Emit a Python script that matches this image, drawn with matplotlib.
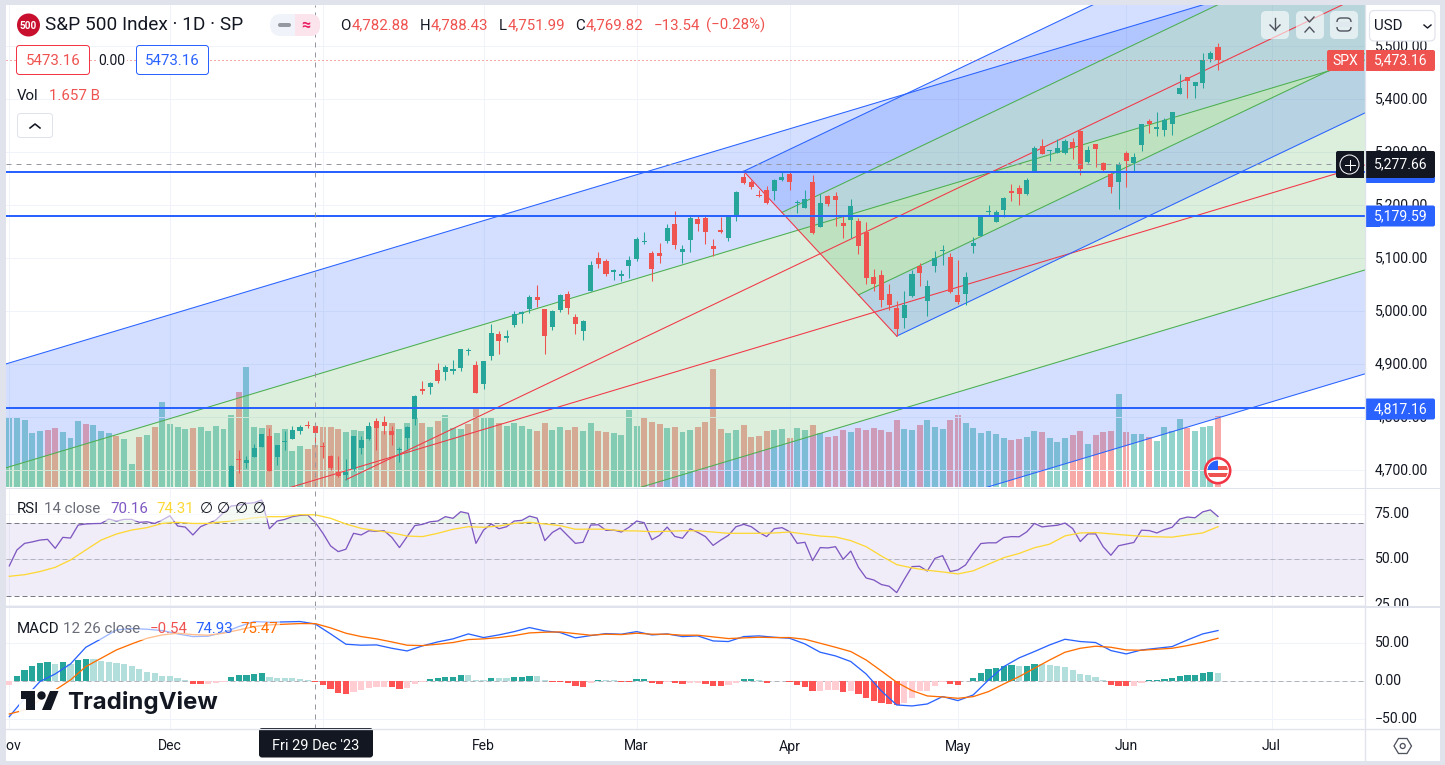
import numpy as np
import matplotlib
matplotlib.use('Agg')
import matplotlib.pyplot as plt
from matplotlib.patches import Rectangle, FancyBboxPatch, Circle, Polygon

plt.rcParams['font.family'] = ['Roboto', 'DejaVu Sans']

W, H = 1445, 765

# first candle on screen is bar 29, everything before sits below the price pane
candle_start = 29
opens = [4646, 4721, 4714, 4725, 4743, 4764, 4724, 4753, 4758, 4773, 4786, 4782.88,
         4745, 4726, 4697, 4690, 4703, 4742, 4759, 4792, 4791, 4773, 4739, 4760, 4797, 4853, 4856, 4889, 4886, 4888, 4893, 4925, 4899,
         4862, 4916, 4957, 4950, 4973, 4995, 5005, 5026, 5004, 4970, 5003, 5032, 4989, 4963, 5039, 5100, 5094, 5074, 5067, 5085,
         5098, 5131, 5110, 5109, 5132, 5164, 5112, 5134, 5174, 5176, 5123, 5154, 5139, 5181, 5254, 5243, 5220, 5228, 5227, 5248,
         5258, 5205, 5195, 5244, 5159, 5218, 5217, 5167, 5172, 5171, 5150, 5065, 5068, 5032, 5006, 4988, 5029, 5085, 5019, 5085, 5114, 5103,
         5030, 5033, 5123, 5142, 5187, 5169, 5190, 5226, 5233, 5221, 5264, 5311, 5303, 5299, 5298, 5320, 5340, 5281, 5316, 5279, 5259, 5244,
         5298, 5279, 5314, 5358, 5344, 5342, 5354, 5409, 5441, 5424, 5431, 5476, 5499]
highs = [4709, 4738, 4726, 4749, 4769, 4779, 4748, 4773, 4784, 4785, 4793, 4788.43,
         4754, 4729, 4726, 4722, 4764, 4765, 4791, 4799, 4802, 4784, 4744, 4783, 4842, 4868, 4866, 4903, 4898, 4907, 4929, 4931, 4906,
         4906, 4975, 4963, 4965, 5000, 5001, 5031, 5049, 5005, 5002, 5032, 5039, 4994, 4984, 5094, 5111, 5098, 5080, 5078, 5105,
         5140, 5149, 5114, 5128, 5165, 5189, 5125, 5180, 5180, 5180, 5136, 5177, 5180, 5226, 5261, 5247, 5229, 5236, 5249, 5265,
         5264, 5209, 5229, 5256, 5222, 5220, 5225, 5179, 5211, 5175, 5168, 5079, 5077, 5052, 5019, 5038, 5077, 5090, 5058, 5114, 5124, 5110,
         5096, 5073, 5140, 5181, 5200, 5191, 5215, 5240, 5238, 5251, 5311, 5325, 5305, 5325, 5324, 5327, 5341, 5311, 5316, 5282, 5264, 5281,
         5303, 5299, 5354, 5362, 5376, 5365, 5376, 5448, 5441, 5432, 5488, 5490, 5506]
lows = [4643, 4694, 4705, 4725, 4743, 4698, 4709, 4739, 4758, 4768, 4780, 4751.99,
        4723, 4700, 4687, 4682, 4699, 4730, 4757, 4739, 4769, 4747, 4715, 4740, 4785, 4844, 4844, 4865, 4870, 4881, 4888, 4917, 4845,
        4853, 4907, 4919, 4942, 4970, 4978, 4996, 5008, 4920, 4964, 4999, 4994, 4956, 4946, 5039, 5081, 5067, 5058, 5057, 5062,
        5094, 5127, 5056, 5091, 5128, 5117, 5091, 5111, 5152, 5127, 5104, 5148, 5132, 5171, 5240, 5230, 5216, 5203, 5210, 5246,
        5229, 5185, 5195, 5146, 5158, 5198, 5161, 5139, 5138, 5108, 5052, 5039, 5008, 5002, 4954, 4969, 5027, 5047, 4990, 5073, 5088, 5035,
        5013, 5012, 5110, 5142, 5180, 5168, 5178, 5207, 5201, 5220, 5264, 5296, 5283, 5299, 5297, 5287, 5257, 5279, 5272, 5263, 5223, 5192,
        5234, 5265, 5303, 5336, 5331, 5331, 5333, 5409, 5402, 5403, 5421, 5471, 5455]
closes = [4707, 4720, 4719, 4741, 4768, 4698, 4747, 4755, 4775, 4782, 4783, 4769.82,
          4743, 4705, 4689, 4697, 4764, 4757, 4783, 4780, 4784, 4766, 4739, 4781, 4840, 4850, 4865, 4869, 4894, 4891, 4928, 4925, 4846,
          4906, 4959, 4943, 4954, 4995, 4998, 5027, 5022, 4953, 5001, 5030, 5006, 4976, 4982, 5087, 5089, 5070, 5078, 5070, 5096,
          5137, 5131, 5079, 5105, 5157, 5124, 5118, 5175, 5165, 5150, 5117, 5149, 5179, 5225, 5242, 5234, 5218, 5204, 5248, 5254,
          5244, 5206, 5211, 5147, 5204, 5202, 5210, 5161, 5199, 5123, 5062, 5051, 5022, 5011, 4967, 5011, 5071, 5072, 5048, 5100, 5116, 5036,
          5018, 5064, 5128, 5181, 5188, 5188, 5214, 5223, 5221, 5247, 5308, 5297, 5303, 5308, 5321, 5307, 5268, 5305, 5306, 5267, 5235, 5278,
          5283, 5291, 5354, 5353, 5347, 5361, 5375, 5421, 5434, 5432, 5473, 5487, 5473.16]

# volume in billions, bar 0 to 158
volume = [2.73, 2.69, 2.61, 2.10, 2.18, 2.22, 2.30, 2.14, 1.91, 2.58,
          2.46, 2.42, 2.18, 2.10, 1.99, 1.87, 0.89, 1.95, 2.03, 2.34,
          3.32, 2.46, 2.34, 2.26, 2.30, 2.34, 2.18, 2.38, 2.26, 2.81,
          3.71, 4.71, 2.34, 2.30, 2.42, 2.10, 2.26, 1.40, 1.59, 1.48,
          1.657, 2.34, 2.34, 2.26, 2.14, 2.22, 2.18, 2.34, 2.54, 2.18,
          2.50, 2.26, 2.50, 2.69, 2.50, 2.34, 2.58, 2.81, 2.30, 2.26,
          2.46, 3.12, 2.69, 2.73, 2.50, 2.38, 2.50, 2.38, 2.26, 2.18,
          2.50, 2.22, 2.34, 2.22, 2.34, 2.18, 2.50, 2.18, 2.14, 2.10,
          2.03, 3.01, 2.38, 2.69, 2.54, 2.46, 2.30, 2.34, 2.14, 2.22,
          2.34, 2.54, 4.61, 2.26, 2.10, 2.22, 2.42, 1.95, 1.99, 2.18,
          2.22, 2.26, 1.91, 2.30, 2.22, 2.42, 2.10, 1.95, 1.99, 2.22,
          2.14, 2.30, 2.22, 2.30, 2.22, 2.14, 2.61, 2.26, 2.22, 2.42,
          2.61, 2.34, 2.26, 2.61, 2.81, 2.51, 2.31, 2.12, 2.20, 2.08,
          1.92, 1.84, 1.88, 1.96, 2.20, 2.16, 1.92, 1.76, 1.92, 2.04,
          2.20, 1.69, 2.04, 2.16, 2.20, 3.65, 2.16, 2.08, 2.08, 1.96,
          1.80, 2.35, 2.20, 2.67, 2.31, 2.20, 2.35, 2.39, 2.78]
volume_side = ("GGGGGRRGGG" "RGGGRGGRGR" "GGGGRGGGGG" "RGGGRGGGGR" "RRRRGGGGRR"
               "RGGGRGRGGG" "RRGGRGGGGR" "RGGRRGGRRG" "GGGRRRGRGG" "RRRRGGRRRR"
               "GGRGGRGRRR" "GRRRRRRGGR" "GGGRRGGGGG" "GRRGGRGGGR" "RGRRRGRGGR"
               "GGGGRGGGR")

rsi = [46.4, 55.1, 58.7, 59.5, 60.5, 60.9, 56.0, 62.0, 61.6, 68.7,
       69.3, 69.5, 69.6, 72.0, 70.9, 71.8, 71.8, 70.2, 70.5, 69.6,
       71.5, 73.8, 68.2, 67.6, 63.3, 67.8, 69.6, 71.5, 75.5, 79.1,
       79.6, 80.5, 80.9, 82.4, 66.7, 70.9, 71.8, 73.3, 74.0, 74.2,
       70.16, 64.2, 57.3, 54.2, 55.5, 64.2, 63.3, 65.6, 65.3, 65.6,
       62.0, 56.4, 62.4, 68.4, 69.1, 70.5, 70.9, 73.3, 72.4, 76.0,
       75.1, 58.7, 66.0, 69.3, 66.7, 67.8, 70.9, 71.3, 73.6, 72.5,
       60.2, 64.7, 67.1, 62.9, 58.7, 59.3, 68.7, 68.9, 65.8, 66.0,
       64.9, 67.5, 70.9, 70.0, 60.7, 63.1, 67.6, 62.5, 61.5, 66.7,
       64.7, 62.4, 57.6, 60.5, 63.1, 67.8, 69.1, 67.8, 64.7, 62.4,
       66.7, 67.3, 65.1, 58.7, 59.3, 49.3, 56.4, 56.2, 56.9, 50.0,
       54.5, 45.6, 39.8, 38.7, 36.2, 35.3, 31.8, 39.1, 46.0, 46.2,
       43.6, 50.5, 52.0, 43.3, 44.2, 46.9, 53.2, 58.6, 59.0, 59.0,
       61.9, 62.4, 62.3, 65.0, 69.6, 67.7, 68.2, 68.6, 69.8, 66.8,
       59.7, 63.9, 63.9, 56.8, 52.2, 57.4, 58.3, 59.2, 65.9, 65.7,
       64.4, 66.2, 67.5, 72.0, 73.1, 72.7, 75.9, 77.0, 73.4]

# the slow lines are read every second bar
rsi_ma = [40.7, 41.6, 43.3, 45.6, 49.6, 55.1, 60.5, 63.8, 66.0, 67.3,
          69.6, 70.2, 69.6, 69.6, 70.5, 71.5, 72.7, 73.3, 73.3, 74.4,
          74.31, 72.4, 69.3, 66.9, 65.6, 64.5, 62.7, 62.4, 64.2, 66.4,
          67.8, 67.5, 68.2, 69.6, 70.2, 69.3, 68.4, 66.4, 66.5, 66.4,
          65.6, 65.5, 65.1, 65.3, 65.6, 65.6, 64.9, 64.2, 64.2, 64.2,
          64.4, 64.9, 63.8, 62.7, 62.2, 60.2, 56.9, 51.8, 47.1, 45.3,
          44.0, 43.1, 42.0, 43.7, 47.3, 50.9, 53.2, 56.3, 58.3, 62.8,
          64.4, 64.6, 63.9, 63.2, 62.6, 62.3, 62.1, 63.3, 64.4, 67.8]
macd_line = [-46.3, -22.3, -0.4, 9.6, 22.7, 44.5, 55.5, 67.2, 69.0, 68.1,
             66.4, 62.0, 58.5, 59.0, 63.8, 71.6, 78.2, 77.3, 77.7, 78.2,
             74.93, 62.0, 48.5, 47.2, 47.6, 43.2, 39.7, 46.3, 51.5, 55.5,
             62.0, 57.2, 60.7, 65.0, 70.3, 65.9, 63.8, 56.8, 59.8, 62.4,
             61.6, 65.0, 60.7, 62.0, 58.5, 59.4, 52.8, 52.0, 58.5, 59.4,
             57.6, 56.3, 48.9, 38.0, 33.2, 25.8, 9.6, -12.7, -31.0, -32.3,
             -29.7, -20.0, -25.3, -17.9, 1.7, 19.2, 30.6, 38.9, 47.6, 55.0,
             52.0, 50.7, 40.2, 35.8, 41.0, 43.2, 45.4, 54.1, 62.0, 66.4]
macd_signal = [-42.8, -37.6, -24.5, -11.4, 1.7, 19.2, 30.1, 41.0, 48.9, 56.3,
               60.7, 62.9, 61.1, 60.3, 62.9, 67.2, 71.6, 73.8, 74.7, 75.5,
               75.47, 69.9, 62.9, 58.5, 55.5, 51.5, 47.2, 46.7, 48.5, 50.7,
               54.6, 55.5, 57.2, 59.8, 63.3, 64.2, 64.6, 62.4, 60.3, 61.6,
               61.1, 62.9, 61.6, 61.6, 60.3, 60.3, 58.1, 55.9, 56.8, 57.6,
               57.2, 57.2, 55.0, 49.8, 44.5, 38.9, 27.9, 13.5, -1.3, -12.2,
               -19.2, -20.5, -22.3, -20.1, -13.5, -3.5, 6.1, 17.0, 27.9, 38.0,
               43.2, 45.9, 44.5, 41.0, 40.6, 41.9, 43.2, 46.7, 51.1, 56.3]
macd_hist = [-4.8, 7.0, 14.8, 20.5, 24.0, 25.3, 22.7, 25.3, 22.7, 27.9,
             29.3, 29.3, 26.6, 25.3, 24.0, 22.7, 20.1, 15.7, 12.2, 10.5,
             7.4, 7.0, 3.9, 1.7, -3.5, -3.5, -3.5, -1.7, -0.4, 5.2,
             8.3, 8.3, 9.6, 10.9, 5.7, 4.4, 4.4, 4.4, 2.6, 1.7,
             -0.54, -4.8, -10.0, -15.3, -16.2, -14.0, -11.4, -8.7, -7.4, -7.4,
             -7.4, -10.0, -8.7, -3.5, -0.4, 3.1, 4.4, 5.7, 5.7, 8.3,
             8.3, 1.7, 1.7, 4.8, 4.4, 4.4, 5.7, 5.7, 7.0, 7.0,
             1.7, -0.9, -0.9, -2.2, -6.1, -7.4, -2.2, 1.7, 1.7, 1.7,
             -0.9, -0.9, 3.1, 3.1, -2.2, -3.5, -0.4, -2.2, -3.5, -2.2,
             -2.2, -3.5, -6.1, -6.1, -4.8, -2.2, 3.1, 3.1, 1.7, -2.2,
             0.4, 0.4, -0.7, -4.8, -7.4, -12.7, -12.7, -11.4, -11.4, -14.0,
             -12.7, -16.6, -21.8, -25.8, -28.4, -29.7, -31.4, -28.4, -21.8, -12.7,
             -12.7, -6.1, -0.4, -3.5, -4.8, 0.4, 4.4, 10.9, 15.7, 17.5,
             20.1, 21.4, 20.1, 20.1, 22.7, 22.7, 21.4, 20.1, 18.8, 14.8,
             9.6, 8.3, 5.7, 1.7, -4.8, -6.1, -6.1, -6.1, -2.2, 1.7,
             1.7, 3.1, 4.4, 7.0, 8.3, 8.3, 10.9, 12.2, 10.9]
hist_shade = ("LDDDDDLDLD" "DLLLLLLLLL" "LLLLDDLLLD" "DDDDLLLLLL" "DDDDDLLLLL"
              "DDLLLDDDDD" "LLLDLLDDDL" "LDDDDDLDLL" "DDDDDDLDDL" "LDDDLLDDLD"
              "DDDDDDLLLD" "LDDDDDDLLL" "LLLDDDDDDD" "DDLDDLLLLL" "LLLLDDDLLD"
              "DDDDDDDDL")

month_bars = [0, 21, 41, 62, 82, 102, 124, 146, 165]
month_names = ['Nov', 'Dec', 'Jan', 'Feb', 'Mar', 'Apr', 'May', 'Jun', 'Jul']
price_ticks = [4700, 4800, 4900, 5000, 5100, 5200, 5300, 5400, 5500]
rsi_ticks = [25, 50, 75]
macd_ticks = [-50, 0, 50]

last_close = 5473.16
cross_price = 5277.66
cross_bar = 40
level_prices = [5262.6, 5179.59, 4817.16]

# big channel: median end points and distance of each line from it
big_x = [-5, 185]
big_median = [4486.7, 5309.5]
big_offsets = [394, 198, -198, -394]

# small pitchfork: pivot and the two handle ends (bar, price)
fork_pivot = (44, 4682)
fork_top = (96, 5264)
fork_bottom = (116, 4953)

GREEN, RED = '#26a69a', '#ef5350'
BLUE, FORK_GREEN, FORK_RED = '#2962ff', '#4caf50', '#f23645'
GRID = '#f0f3fa'
TEXT = '#131722'
PX = 0.72  # points per pixel at dpi 100


def pane(x0, y0, x1, y1, **kw):
    return fig.add_axes([x0 / W, 1 - y1 / H, (x1 - x0) / W, (y1 - y0) / H], **kw)


fig = plt.figure(figsize=(W / 100, H / 100), dpi=100, facecolor='white')

x_left, x_right = -0.431, 177.15
ax_vol = pane(6, 5, 1364.5, 487, zorder=1)
ax = pane(6, 5, 1364.5, 487, zorder=2)
ax_rsi = pane(6, 488, 1364.5, 606, zorder=2)
ax_macd = pane(6, 608, 1364.5, 728.5, zorder=2)
ax.patch.set_alpha(0)

for a in (ax_vol, ax, ax_rsi, ax_macd):
    a.set_xlim(x_left, x_right)
    for s in a.spines.values():
        s.set_visible(False)
    a.set_xticks(month_bars)
    a.tick_params(length=0, labelbottom=False, labelleft=False, labelright=True, right=False, left=False,
                  labelsize=14 * PX, labelcolor=TEXT, pad=10 * PX)
    a.yaxis.tick_right()
    a.grid(True, color=GRID, lw=PX)
    a.set_axisbelow(True)

ax.set_ylim(4668.25, 5577.7)
ax.set_yticks(price_ticks)
ax.set_yticklabels([f'{v:,.2f}' for v in price_ticks])
ax_vol.set_ylim(0, 18.9)
ax_vol.set_yticks([])
ax_vol.grid(False)
ax_rsi.set_ylim(24.48, 88.96)
ax_rsi.set_yticks(rsi_ticks)
ax_rsi.set_yticklabels([f'{v:.2f}' for v in rsi_ticks])
ax_macd.set_ylim(-61.8, 95.9)
ax_macd.set_yticks(macd_ticks)
ax_macd.set_yticklabels([f'{v:.2f}'.replace('-', '\u2212') for v in macd_ticks])
ax_macd.tick_params(labelbottom=True, bottom=False)
ax_macd.tick_params(axis='x', pad=11 * PX)
ax_macd.set_xticklabels(month_names)
for a in (ax, ax_rsi, ax_macd):
    for t in a.get_yticklabels():
        t.set_verticalalignment('center')

# volume
bars = np.arange(len(volume))
vol_colors = ['#92d3cc' if s == 'G' else '#f7a9a7' for s in volume_side]
ax_vol.bar(bars, volume, width=0.78, color=vol_colors, lw=0)

# big channel
bx = np.array(big_x)
bm = np.array(big_median)
bands = [(big_offsets[0], big_offsets[1], BLUE), (big_offsets[1], big_offsets[2], FORK_GREEN),
         (big_offsets[2], big_offsets[3], BLUE)]
for up, dn, col in bands:
    ax.fill_between(bx, bm + dn, bm + up, color=col, alpha=0.2, lw=0, zorder=2)
for off, col in zip(big_offsets, [BLUE, FORK_GREEN, FORK_GREEN, BLUE]):
    ax.plot(bx, bm + off, color=col, lw=1.05 * PX, zorder=3)
ax.plot(bx, bm, color=FORK_RED, lw=1.05 * PX, zorder=3)

# small pitchfork
p1, p2, p3 = np.array(fork_pivot, float), np.array(fork_top, float), np.array(fork_bottom, float)
mid = (p2 + p3) / 2
step = (mid - p1) / (mid[0] - p1[0])
levels = [1, 0.5, 0, -0.5, -1]
starts = {lv: mid + lv * (p2 - mid) for lv in levels}
ends = {lv: starts[lv] + step * (x_right + 5 - starts[lv][0]) for lv in levels}
for a_lv, b_lv, col in [(1, 0.5, BLUE), (0.5, -0.5, FORK_GREEN), (-0.5, -1, BLUE)]:
    ax.add_patch(Polygon([starts[a_lv], ends[a_lv], ends[b_lv], starts[b_lv]], closed=True,
                         facecolor=col, alpha=0.2, lw=0, zorder=2))
for lv, col in zip([1, 0.5, -0.5, -1], [BLUE, FORK_GREEN, FORK_GREEN, BLUE]):
    ax.plot([starts[lv][0], ends[lv][0]], [starts[lv][1], ends[lv][1]], color=col, lw=1.05 * PX, zorder=3)
ax.plot([p1[0], ends[0][0]], [p1[1], ends[0][1]], color=FORK_RED, lw=1.05 * PX, zorder=3)
ax.plot([p2[0], p3[0]], [p2[1], p3[1]], color=FORK_RED, lw=1.05 * PX, zorder=3)

# candles
cx = np.arange(candle_start, candle_start + len(closes))
o, c, hi, lo = map(np.array, (opens, closes, highs, lows))
cc = [GREEN if b >= a else RED for a, b in zip(o, c)]
ax.vlines(cx, lo, hi, colors=cc, lw=1.05 * PX, zorder=4)
ax.bar(cx, np.maximum(np.abs(c - o), 1.5), bottom=np.minimum(o, c), width=0.66, color=cc, lw=0, zorder=4)

# levels and crosshair
for lvl in level_prices:
    ax.axhline(lvl, color=BLUE, lw=2 * PX, zorder=5)
ax.axhline(last_close, color=RED, lw=PX, ls=(0, (1, 3)), zorder=5)
ax.axhline(cross_price, color='#9598a1', lw=PX, ls=(0, (5, 5)), zorder=6)
for a in (ax, ax_rsi, ax_macd):
    a.axvline(cross_bar, color='#9598a1', lw=PX, ls=(0, (5, 5)), zorder=6)

# RSI
rsi_x = np.arange(len(rsi))
rsi_arr = np.array(rsi)
ax_rsi.axhspan(30, 70, color='#7e57c2', alpha=0.1, lw=0, zorder=1)
for lvl, col in [(70, '#787b86'), (50, '#b2b5be'), (30, '#787b86')]:
    ax_rsi.axhline(lvl, color=col, lw=PX, ls=(0, (5, 3)), zorder=2)
ax_rsi.fill_between(rsi_x, 70, rsi_arr, where=rsi_arr > 70, interpolate=True, color=FORK_GREEN, alpha=0.12, lw=0, zorder=2)
ax_rsi.plot(rsi_x, rsi_arr, color='#7e57c2', lw=1.3 * PX, zorder=3)
ax_rsi.plot(np.arange(len(rsi_ma)) * 2, rsi_ma, color='#fdd835', lw=1.3 * PX, zorder=3)

# MACD
hist_colors = []
for v, s in zip(macd_hist, hist_shade):
    if v >= 0:
        hist_colors.append(GREEN if s == 'D' else '#b2dfdb')
    else:
        hist_colors.append('#ff5252' if s == 'D' else '#ffcdd2')
ax_macd.axhline(0, color='#b2b5be', lw=PX, ls=(0, (5, 3)), zorder=1)
ax_macd.bar(np.arange(len(macd_hist)), macd_hist, width=0.82, color=hist_colors, lw=0, zorder=2)
ax_macd.plot(np.arange(len(macd_line)) * 2, macd_line, color=BLUE, lw=1.3 * PX, zorder=3)
ax_macd.plot(np.arange(len(macd_signal)) * 2, macd_signal, color='#ff6d00', lw=1.3 * PX, zorder=3)

# everything around the panes, in pixel coordinates
ui = fig.add_axes([0, 0, 1, 1], zorder=10)
ui.set_xlim(0, W)
ui.set_ylim(H, 0)
ui.axis('off')
ui.patch.set_alpha(0)

BORDER = '#e0e3eb'


def rect(x0, y0, x1, y1, **kw):
    kw.setdefault('lw', 0)
    ui.add_patch(Rectangle((x0, y0), x1 - x0, y1 - y0, **kw))


def rbox(x0, y0, x1, y1, r=3, **kw):
    kw.setdefault('lw', 0)
    ui.add_patch(FancyBboxPatch((x0, y0), x1 - x0, y1 - y0, boxstyle=f'round,pad=0,rounding_size={r}', **kw))


def label(x, y, s, size=14, color=TEXT, ha='left', **kw):
    return ui.text(x, y, s, fontsize=size * PX, color=color, ha=ha, va='center', **kw)


# outer frame and pane separators
rect(0, 0, W, 5, color=BORDER)
rect(0, 0, 6, H, color=BORDER)
rect(1440, 0, W, H, color=BORDER)
rect(0, 761, W, H, color=BORDER)
rect(1365, 608, 1440, 613, color='white')
ui.plot([6, 1440], [487.5, 487.5], color=BORDER, lw=PX)
rect(6, 605.5, 1440, 608, color=BORDER)
ui.plot([6, 1440], [728.5, 728.5], color=BORDER, lw=1.3 * PX)
ui.plot([1364.5, 1364.5], [5, 761], color=BORDER, lw=1.3 * PX)

# header
ui.add_patch(Circle((28.5, 25), 11.5, color='#c8102e', lw=0))
label(28.5, 25.5, '500', size=10, color='white', ha='center', fontweight='bold')
label(45, 25, 'S&P 500 Index \u00b7 1D \u00b7 SP', size=19)
rbox(270, 14, 320, 36, r=11, color=GRID)
rect(295, 14, 312, 36, color='#fce4ec')
rbox(300, 14, 320, 36, r=10, color='#fce4ec')
rbox(278, 23, 291, 27, r=2, color='#9598a1')
label(306, 25, '\u2248', size=16, color='#e91e63', ha='center', fontweight='bold')
for x, s, col in [(340, 'O', TEXT), (351.5, '4,782.88', RED), (420, 'H', TEXT), (431, '4,788.43', RED),
                  (499, 'L', TEXT), (508, '4,751.99', RED), (575.5, 'C', TEXT), (586, '4,769.82', RED),
                  (654, '\u221213.54', RED), (706, '(\u22120.28%)', RED)]:
    label(x, 25.5, s, size=15, color=col)

rbox(16.5, 45.5, 89.5, 74.5, color='white', ec=FORK_RED, lw=PX)
label(53, 60.5, '5473.16', size=15, color=RED, ha='center')
rect(98, 52, 127, 69, color='white')
label(112, 60.5, '0.00', ha='center')
rbox(136.5, 45.5, 208.5, 74.5, color='white', ec=BLUE, lw=PX)
label(172.5, 60.5, '5473.16', size=15, color=BLUE, ha='center')
label(17, 95.5, 'Vol', size=15)
label(49, 95.5, '1.657 B', size=15, color=RED)
rbox(17.5, 113.5, 52.5, 137.5, color='white', ec=BORDER, lw=PX)
ui.plot([30, 35, 40], [128, 124, 128], color=TEXT, lw=1.6 * PX)

# top right buttons
for x0 in (1261, 1296, 1330):
    rbox(x0, 11, x0 + 28, 39, r=5, color='white', alpha=0.6)
ui.plot([1275, 1275], [18, 30], color='#50535e', lw=1.4 * PX)
ui.plot([1270, 1275, 1280], [25, 30, 25], color='#50535e', lw=1.4 * PX)
ui.plot([1305, 1309.5, 1314], [17, 22, 17], color='#50535e', lw=1.4 * PX)
ui.plot([1305, 1309.5, 1314], [32, 27, 32], color='#50535e', lw=1.4 * PX)
rbox(1337, 18, 1351, 31, r=4, color='none', ec='#50535e', lw=1.4 * PX)
rect(1334, 22, 1354, 27, color='#e0eaee')
rbox(1369.5, 10.5, 1435, 41, r=5, color='white', ec=BORDER, lw=1.2 * PX)
label(1374, 26, 'USD', size=15)
ui.plot([1424, 1427.5, 1431], [25, 28, 25], color=TEXT, lw=1.4 * PX)

# price labels on the axis
rbox(1327, 50, 1364, 71, r=2, color=RED)
rect(1350, 50, 1364, 71, color=RED)
label(1345.5, 60.5, 'SPX', color='white', ha='center')
rbox(1365, 50, 1435, 71, r=2, color=RED)
rect(1365, 50, 1380, 71, color=RED)
label(1401, 60.5, '5,473.16', color='white', ha='center')

rbox(1365, 162, 1435, 183, r=2, color=BLUE)
rbox(1336, 151, 1364, 178, r=2, color=TEXT)
rect(1350, 151, 1364, 178, color=TEXT)
ui.add_patch(Circle((1349.5, 164.5), 9.5, fc='none', ec='white', lw=PX))
ui.plot([1344.5, 1354.5], [164.5, 164.5], color='white', lw=PX)
ui.plot([1349.5, 1349.5], [159.5, 169.5], color='white', lw=PX)
rbox(1365, 151, 1435, 178, r=2, color=TEXT)
rect(1365, 151, 1380, 178, color=TEXT)
label(1401, 164.5, '5,277.66', color='white', ha='center')

for yc, s in [(216, '5,179.59'), (409, '4,817.16')]:
    rbox(1365, yc - 10.5, 1435, yc + 10.5, r=2, color=BLUE)
    rect(1365, yc - 10.5, 1380, yc + 10.5, color=BLUE)
    label(1401, yc, s, color='white', ha='center')

# date label on the crosshair
rbox(259, 728, 373, 757.5, r=3, color=TEXT)
label(316, 746, "Fri 29 Dec '23", size=14.5, color='white', ha='center')
# settings hexagon
ui.add_patch(Polygon([(1394, 746), (1398.5, 738.5), (1407, 738.5), (1411.5, 746), (1407, 753.5), (1398.5, 753.5)],
                     closed=True, fc='none', ec='#50535e', lw=1.3 * PX))
ui.add_patch(Circle((1402.7, 746), 2.5, fc='none', ec='#50535e', lw=1.3 * PX))

# indicator legends
rect(14, 498, 267, 521, color='white', alpha=0.55)
for x, s, col in [(17, 'RSI', TEXT), (44, '14 close', '#6a6d78'), (110, '70.16', '#7e57c2'), (156, '74.31', '#fdd835')]:
    label(x, 509, s, size=15, color=col)
for x in (206, 223, 241, 259):
    label(x, 509, '\u2205', size=15, color=TEXT, ha='center')
rect(14, 618, 280, 640, color='white', alpha=0.55)
for x, s, col in [(17, 'MACD', TEXT), (63, '12 26 close', '#6a6d78'), (150, '\u22120.54', RED),
                  (195, '74.93', BLUE), (240, '75.47', '#ff6d00')]:
    label(x, 629, s, size=15, color=col)

# TradingView logo
LOGO = '#131722'
rect(19, 689, 60, 712, color='white', alpha=0.9)
ui.add_patch(Polygon([(21, 691), (35, 691), (35, 710), (26, 710), (26, 699), (21, 699)], closed=True, color=LOGO, lw=0))
ui.add_patch(Circle((41.5, 695.5), 4.2, color=LOGO, lw=0))
ui.add_patch(Polygon([(50, 691), (58.5, 691), (51, 710), (42, 710)], closed=True, color=LOGO, lw=0))
label(67, 702, 'TradingView', size=24, color=LOGO, fontweight='bold', family='Inter')

# flag badge on the last bar
badge = Circle((1217.7, 470.7), 12.5, fc='white', ec=FORK_RED, lw=2.6 * PX, zorder=5)
ui.add_patch(badge)
inner = Circle((1217.7, 470.7), 10.2, transform=ui.transData)
for y0, y1 in [(466, 469.5), (473, 476.5)]:
    r_ = Rectangle((1205, y0), 26, y1 - y0, color=RED, lw=0, zorder=6)
    ui.add_patch(r_)
    r_.set_clip_path(inner)
canton = Rectangle((1205, 460), 12.5, 9.5, color='#2962ff', lw=0, zorder=7)
ui.add_patch(canton)
canton.set_clip_path(inner)

fig.savefig('out.png', dpi=100, facecolor=fig.get_facecolor())
